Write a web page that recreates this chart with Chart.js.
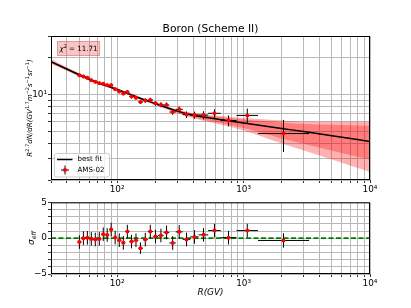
<!DOCTYPE html>
<html>
<head>
<meta charset="utf-8">
<script src="https://cdn.jsdelivr.net/npm/chart.js@4/dist/chart.umd.min.js"></script>
<style>
  html, body { margin: 0; padding: 0; background: #fff; }
  #wrap { position: relative; width: 411px; height: 308px; }
  canvas { position: absolute; left: 0; }
  #top { top: 0; }
  #bot { top: 196px; }
</style>
</head>
<body>
<div id="wrap">
  <canvas id="top" width="411" height="196"></canvas>
  <canvas id="bot" width="411" height="112"></canvas>
</div>
<script>
// AMS-02 boron points: rigidity (GV), R^2.7 flux, error, bin edges
const RIG = [50.3, 54.1, 58.2, 62.5, 67.2, 72.3, 77.7, 83.5, 89.7, 96.5, 104, 112, 120.5, 130, 141, 153, 167, 183, 201, 222, 246, 275, 310, 354, 409, 482, 589, 760, 1070, 2070]
const FLUX = [14.35, 14.0, 13.67, 13.07, 12.68, 12.36, 12.22, 11.9, 11.9, 11.04, 10.58, 10.19, 10.48, 9.63, 9.4, 8.69, 8.91, 9.02, 8.45, 8.25, 8.19, 7.18, 7.55, 6.84, 6.79, 6.78, 7.01, 6.12, 6.74, 4.79]
const FLUX_ERR = [0.45, 0.44, 0.43, 0.41, 0.40, 0.39, 0.39, 0.39, 0.39, 0.37, 0.36, 0.36, 0.37, 0.35, 0.35, 0.34, 0.36, 0.38, 0.38, 0.39, 0.41, 0.38, 0.42, 0.42, 0.45, 0.52, 0.55, 0.62, 0.92, 1.40]
const BIN_LO = [48.5, 52.2, 56.1, 60.3, 64.8, 69.7, 74.9, 80.5, 86.5, 93.0, 100, 108, 116, 125, 135, 147, 160, 175, 192, 211, 233, 259, 291, 330, 379, 441, 525, 660, 880, 1300]
const BIN_HI = [52.2, 56.1, 60.3, 64.8, 69.7, 74.9, 80.5, 86.5, 93.0, 100, 108, 116, 125, 135, 147, 160, 175, 192, 211, 233, 259, 291, 330, 379, 441, 525, 660, 880, 1300, 3300]

// residuals in sigma units
const RESID = [-0.55, 0.0, 0.05, -0.1, -0.18, -0.1, 0.55, 0.45, 1.2, 0.08, -0.28, -0.65, 0.92, -0.48, -0.3, -1.4, -0.2, 0.92, 0.23, 0.37, 0.8, -0.67, 0.88, -0.17, 0.18, 0.46, 1.06, 0.07, 1.06, -0.32]
const RESID_ERR = [0.95, 0.95, 0.95, 0.95, 0.95, 0.95, 0.95, 0.95, 0.95, 0.95, 0.95, 0.95, 0.95, 0.95, 0.95, 0.8, 0.95, 0.95, 0.95, 0.95, 0.95, 0.95, 0.95, 0.95, 0.95, 0.95, 0.95, 0.95, 0.95, 1.0]

// best fit curve and 1σ / 2σ bands
const FIT_R = [30, 50, 70, 100, 150, 200, 300, 400, 500, 700, 1000, 2000, 3000, 5000, 10000]
const FIT = [18.55, 14.49, 12.49, 10.98, 9.35, 8.42, 7.30, 6.75, 6.50, 6.17, 5.84, 5.27, 4.97, 4.60, 4.12]
const HI1 = [18.82, 14.76, 12.68, 11.15, 9.49, 8.56, 7.45, 6.94, 6.74, 6.48, 6.24, 5.90, 5.72, 5.65, 5.56]
const LO1 = [18.04, 14.22, 12.30, 10.82, 9.21, 8.28, 7.12, 6.50, 6.19, 5.77, 5.32, 4.37, 3.93, 3.47, 2.94]
const HI2 = [19.44, 14.90, 12.77, 11.23, 9.56, 8.63, 7.52, 7.03, 6.85, 6.62, 6.41, 6.12, 5.99, 5.98, 5.99]
const LO2 = [17.70, 14.09, 12.21, 10.74, 9.14, 8.20, 7.03, 6.38, 6.03, 5.57, 5.08, 3.98, 3.48, 2.94, 2.33]

// ticks
const X_TICKS = []
for (const d of [10, 100, 1000]) for (let k = 1; k < 10; k++) if (d * k >= 30) X_TICKS.push(d * k)
X_TICKS.push(10000)
const X_LABEL_AT = [100, 1000, 10000]
const X_LABELS = ['10²', '10³', '10⁴']
const Y_TICKS = [2, 3, 4, 5, 6, 7, 8, 9, 10, 20, 30]
const Y_LABEL_AT = [10]
const Y_LABELS = ['10¹']
const R_TICKS = [-5, -4, -3, -2, -1, 0, 1, 2, 3, 4, 5]
const R_LABEL_AT = [-5, 0, 5]
const R_LABELS = ['−5', '0', '5']

const FAM = "'DejaVu Sans', sans-serif"
Chart.defaults.font.family = FAM
Chart.defaults.color = '#000'
Chart.defaults.animation = false
Chart.defaults.events = []

const GRID = { color: '#b8b8b8', lineWidth: 1, tickLength: 3, tickColor: '#000', tickWidth: 0.8 }
const pick = (at, txt) => v => { const i = at.indexOf(v); return i >= 0 ? txt[i] : '' }
const pts = (xs, ys) => xs.map((x, i) => ({ x, y: ys[i] }))

// draw text with super/subscript runs, centred on (cx, cy); rot = true -> vertical
function drawRuns(ctx, runs, cx, cy, size, rot) {
  const parts = runs.map(([t, kind, up]) => {
    const s = kind === 'n' ? size : size * 0.7
    const f = `${up ? '' : 'italic '}${s}px ${FAM}`
    ctx.font = f
    return { t, kind, f, w: ctx.measureText(t).width }
  })
  const total = parts.reduce((a, p) => a + p.w, 0)
  ctx.save()
  ctx.translate(cx, cy)
  if (rot) ctx.rotate(-Math.PI / 2)
  ctx.fillStyle = '#000'
  ctx.textBaseline = 'alphabetic'
  let x = -total / 2
  parts.forEach(p => {
    ctx.font = p.f
    const dy = p.kind === 'sup' ? -size * 0.4 : p.kind === 'sub' ? size * 0.22 : 0
    ctx.fillText(p.t, x, size * 0.36 + dy)
    x += p.w
  })
  ctx.restore()
}

function errorBars(ylo, yhi) {
  return {
    id: 'errorBars',
    beforeDatasetDraw(chart, args) {
      if (args.index !== 0) return
      const { ctx, scales: { x, y } } = chart
      ctx.save()
      ctx.strokeStyle = '#000'
      ctx.lineWidth = 1
      ctx.beginPath()
      RIG.forEach((r, i) => {
        const px = x.getPixelForValue(r), py = y.getPixelForValue(ylo[i] !== undefined ? (ylo[i] + yhi[i]) / 2 : 0)
        const cy = y.getPixelForValue(chart.data.datasets[0].data[i].y)
        ctx.moveTo(x.getPixelForValue(BIN_LO[i]), cy)
        ctx.lineTo(x.getPixelForValue(BIN_HI[i]), cy)
        ctx.moveTo(px, y.getPixelForValue(ylo[i]))
        ctx.lineTo(px, y.getPixelForValue(yhi[i]))
      })
      ctx.stroke()
      ctx.restore()
    }
  }
}

const frame = {
  id: 'frame',
  afterDraw(chart) {
    const { ctx, chartArea: a } = chart
    ctx.save()
    ctx.strokeStyle = '#000'
    ctx.lineWidth = 1
    ctx.strokeRect(a.left + 0.5, a.top + 0.5, a.right - a.left - 1, a.bottom - a.top - 1)
    ctx.restore()
  }
}

const topExtras = {
  id: 'topExtras',
  afterDraw(chart) {
    const ctx = chart.ctx
    // y axis title
    drawRuns(ctx, [['R', 'n'], ['2.7', 'sup', 1], ['dN/dR(GV', 'n'], ['1.7', 'sup', 1], ['m', 'n'], ['−2', 'sup', 1], ['s', 'n'], ['−1', 'sup', 1], ['sr', 'n'], ['−1', 'sup', 1], [')', 'n']], 29.5, 108, 7.1, true)
    // chi2 box
    ctx.save()
    ctx.fillStyle = 'rgba(240,110,110,0.4)'
    ctx.strokeStyle = 'rgba(220,90,90,0.45)'
    ctx.lineWidth = 1
    ctx.fillRect(57, 41, 43, 15)
    ctx.strokeRect(57.5, 41.5, 42, 14)
    ctx.restore()
    drawRuns(ctx, [['χ', 'n'], ['2', 'sup', 1], [' = 11.71', 'n', 1]], 78.5, 48.5, 7.1, false)
    // legend
    ctx.save()
    ctx.fillStyle = 'rgba(255,255,255,0.8)'
    ctx.strokeStyle = '#cccccc'
    ctx.lineWidth = 1
    ctx.beginPath()
    ctx.roundRect(54.5, 153.5, 55, 23.5, 2)
    ctx.fill()
    ctx.stroke()
    ctx.strokeStyle = '#000'
    ctx.lineWidth = 1.5
    ctx.beginPath()
    ctx.moveTo(57, 159.5); ctx.lineTo(72.5, 159.5)
    ctx.stroke()
    ctx.lineWidth = 1
    ctx.beginPath()
    ctx.moveTo(65, 165.5); ctx.lineTo(65, 174.5)
    ctx.moveTo(61, 170); ctx.lineTo(69, 170)
    ctx.stroke()
    ctx.fillStyle = 'red'
    ctx.beginPath()
    ctx.arc(65, 170, 2, 0, Math.PI * 2)
    ctx.fill()
    ctx.fillStyle = '#000'
    ctx.font = `7.1px ${FAM}`
    ctx.textBaseline = 'middle'
    ctx.fillText(chart.data.datasets[1].label, 77.5, 159.5)
    ctx.fillText(chart.data.datasets[0].label, 77.5, 170)
    ctx.restore()
  }
}

const botExtras = {
  id: 'botExtras',
  afterDraw(chart) {
    drawRuns(chart.ctx, [['σ', 'n'], ['eff', 'sub']], 30.5, 42, 8.9, true)
  }
}

const xScale = (h, title) => ({
  type: 'logarithmic', min: 30, max: 10000,
  afterBuildTicks: s => { s.ticks = X_TICKS.map(v => ({ value: v })) },
  afterFit: s => { s.height = h },
  ticks: { autoSkip: false, maxRotation: 0, padding: 1, font: { size: 8.9 }, callback: pick(X_LABEL_AT, X_LABELS) },
  grid: GRID,
  border: { display: false },
  title
})

const band = (data, fill) => ({ data, borderWidth: 0, pointRadius: 0, fill, backgroundColor: 'rgba(255,0,0,0.3)', cubicInterpolationMode: 'monotone' })

new Chart(document.getElementById('top'), {
  type: 'line',
  data: {
    datasets: [
      { label: 'AMS-02', data: pts(RIG, FLUX), showLine: false, pointRadius: 2, pointBackgroundColor: 'red', pointBorderWidth: 0 },
      { label: 'best fit', data: pts(FIT_R, FIT), borderColor: '#000', borderWidth: 1.5, pointRadius: 0, cubicInterpolationMode: 'monotone' },
      band(pts(FIT_R, HI1), '+1'),
      band(pts(FIT_R, LO1), false),
      band(pts(FIT_R, HI2), '+1'),
      band(pts(FIT_R, LO2), false)
    ]
  },
  options: {
    responsive: false,
    layout: { padding: { left: 0, right: 41, top: 0, bottom: 0 } },
    plugins: {
      legend: { display: false },
      tooltip: { enabled: false },
      title: { display: true, text: 'Boron (Scheme II)', fullSize: false, font: { size: 10.7, weight: 'normal' }, padding: { top: 23.1, bottom: 0.06 } }
    },
    scales: {
      x: xScale(16, { display: false }),
      y: {
        type: 'logarithmic', min: 2, max: 30,
        afterBuildTicks: s => { s.ticks = Y_TICKS.map(v => ({ value: v })) },
        afterFit: s => { s.width = 51 },
        ticks: { autoSkip: false, padding: 1, font: { size: 8.9 }, callback: pick(Y_LABEL_AT, Y_LABELS) },
        grid: GRID,
        border: { display: false }
      }
    }
  },
  plugins: [errorBars(FLUX.map((v, i) => v - FLUX_ERR[i]), FLUX.map((v, i) => v + FLUX_ERR[i])), frame, topExtras]
})

new Chart(document.getElementById('bot'), {
  type: 'line',
  data: {
    datasets: [
      { label: 'residual', data: pts(RIG, RESID), showLine: false, pointRadius: 2, pointBackgroundColor: 'red', pointBorderWidth: 0 },
      { label: 'zero', data: [{ x: 30, y: 0 }, { x: 10000, y: 0 }], borderColor: 'green', borderWidth: 1.6, borderDash: [5, 2.5], pointRadius: 0 }
    ]
  },
  options: {
    responsive: false,
    layout: { padding: { left: 0, right: 41, top: 6, bottom: 0 } },
    plugins: { legend: { display: false }, tooltip: { enabled: false } },
    scales: {
      x: xScale(34, { display: true, text: 'R(GV)', font: { size: 8.9, style: 'italic' }, padding: { top: 0, bottom: 10.2 } }),
      y: {
        type: 'linear', min: -5, max: 5,
        afterBuildTicks: s => { s.ticks = R_TICKS.map(v => ({ value: v })) },
        afterFit: s => { s.width = 51 },
        ticks: { autoSkip: false, padding: 1, font: { size: 8.9 }, callback: pick(R_LABEL_AT, R_LABELS) },
        grid: GRID,
        border: { display: false }
      }
    }
  },
  plugins: [errorBars(RESID.map((v, i) => v - RESID_ERR[i]), RESID.map((v, i) => v + RESID_ERR[i])), frame, botExtras]
})
</script>
</body>
</html>
